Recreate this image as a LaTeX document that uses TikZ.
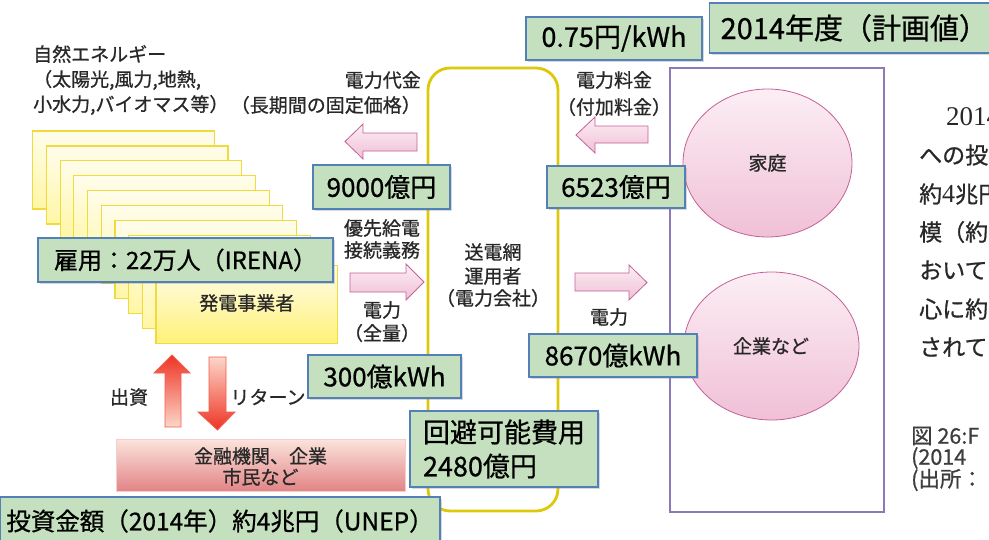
\documentclass[tikz,border=0pt]{standalone}
\usepackage{fontspec}
\setmainfont{Noto Sans CJK JP}[FakeBold=0.8]
\newfontfamily\serifnum{Liberation Serif}
\usetikzlibrary{shadows,shapes.geometric}
\definecolor{gfill}{RGB}{197,224,190}
\definecolor{gline}{RGB}{84,128,184}
\definecolor{ybord}{RGB}{240,218,60}
\definecolor{ytop}{RGB}{255,253,236}
\definecolor{ybot}{RGB}{255,246,165}
\definecolor{yfbot}{RGB}{255,241,120}
\definecolor{frameY}{RGB}{222,200,10}
\definecolor{frameP}{RGB}{140,122,182}
\definecolor{pinkA}{RGB}{252,238,244}
\definecolor{pinkB}{RGB}{240,192,214}
\definecolor{pinkL}{RGB}{196,96,152}
\definecolor{redA}{RGB}{238,52,36}
\definecolor{redB}{RGB}{252,214,200}
\definecolor{finTop}{RGB}{251,228,220}
\definecolor{finBot}{RGB}{226,132,134}
\definecolor{txt}{RGB}{40,40,40}
\begin{document}
\begin{tikzpicture}[x=1pt,y=-1pt,
  lbl/.style={inner sep=0pt, text=txt, font=\fontsize{19}{21}\selectfont},
  gbox/.style={draw=gline, fill=gfill, line width=1.2pt, inner sep=0pt, text=black,
    font=\fontsize{26}{31}\selectfont,
    drop shadow={shadow xshift=2pt, shadow yshift=-2pt, opacity=0.3}},
  ybox/.style={draw=ybord, line width=1.2pt, top color=ytop, bottom color=ybot,
    minimum width=181.6pt, minimum height=78pt, inner sep=0pt},
  ell/.style={ellipse, draw=pinkL, line width=0.8pt, top color=pinkA, bottom color=pinkB, inner sep=0pt},
  parrow/.style={draw=pinkL, line width=0.8pt, top color=pinkA, bottom color=pinkB},
  rtxt/.style={inner sep=0pt, text=txt, font=\fontsize{23}{25}\selectfont},
  captxt/.style={inner sep=0pt, text=txt!90, font=\fontsize{21.5}{23}\selectfont}
]
\useasboundingbox (0,0) rectangle (989,539);
\clip (0,0) rectangle (989,539);

% frames
\node[draw=frameY, line width=2.8pt, rounded corners=22pt, minimum width=130pt, minimum height=443pt, inner sep=0pt] (grid) at (493,289.5) {};
\node[draw=frameP, line width=2.8pt, minimum width=214pt, minimum height=444pt, inner sep=0pt] (cons) at (777,290) {};

% stacked producer boxes
\foreach \i in {0,...,8} {
  \node[ybox] (s\i) at ({123.5+13.7*\i},{170+14.9*\i}) {};
}
\node[ybox, bottom color=yfbot] (s9) at (246.8,304.1) {};
\node[lbl] (prod) at (246.8,303) {発電事業者};

% left texts
\node[lbl, anchor=west] (t1) at (33,54) {自然エネルギー};
\node[lbl, anchor=west] (t2) at (33,80) {（太陽光,風力,地熱,};
\node[lbl, anchor=west] (t3) at (33,105) {小水力,バイオマス等）};
\node[lbl, anchor=east] (t4) at (421,105) {（長期間の固定価格）};
\node[lbl, anchor=east] (t5) at (421,80) {電力代金};

% pink arrows
\path[parrow] (417,133) -- (363,133) -- (363,124) -- (345,141.5) -- (363,159) -- (363,151) -- (417,151) -- cycle;
\path[parrow] (648,126) -- (595,126) -- (595,117) -- (576,135) -- (595,153) -- (595,143) -- (648,143) -- cycle;
\path[parrow] (350,273) -- (406,273) -- (406,264) -- (424,282) -- (406,300) -- (406,292) -- (350,292) -- cycle;
\path[parrow] (575,273) -- (629,273) -- (629,265) -- (647,282.5) -- (629,300) -- (629,291) -- (575,291) -- cycle;

% middle labels
\node[lbl] (pri1) at (382,228) {優先給電};
\node[lbl] (pri2) at (382,250) {接続義務};
\node[lbl] (pw1) at (382,310) {電力};
\node[lbl] (pw2) at (382,333) {（全量）};
\node[lbl] (g1) at (493,252) {送電網};
\node[lbl] (g2) at (493,276) {運用者};
\node[lbl] (g3) at (493,298) {（電力会社）};
\node[lbl] (fee1) at (614,80) {電力料金};
\node[lbl] (fee2) at (614,107) {（付加料金）};
\node[lbl] (pw3) at (609,317) {電力};

% consumers
\node[ell, minimum width=169pt, minimum height=148pt] (home) at (767.5,163) {};
\node[lbl] (homet) at (767.5,163) {家庭};
\node[ell, minimum width=175pt, minimum height=148pt] (firm) at (771.5,346) {};
\node[lbl] (firmt) at (771,346) {企業など};

% red arrows and finance box
\path[draw=redA!80, line width=0.8pt, top color=redA, bottom color=redB]
  (165,427) -- (165,373) -- (154,373) -- (172,355) -- (190,373) -- (181,373) -- (181,427) -- cycle;
\path[draw=redA!80, line width=0.8pt, top color=redB, bottom color=redA]
  (209,357) -- (226,357) -- (226,412) -- (235,412) -- (217.5,430) -- (198,412) -- (209,412) -- cycle;
\node[lbl] (inv) at (129,397) {出資};
\node[lbl] (ret) at (268,397) {リターン};
\node[draw=finBot!40, line width=0.6pt, top color=finTop, bottom color=finBot, minimum width=289pt, minimum height=52pt, inner sep=0pt] (fin) at (260.5,465) {};
\node[lbl] (fin1) at (260.5,456) {金融機関、企業};
\node[lbl] (fin2) at (260.5,477) {市民など};

% green value boxes
\node[gbox, minimum width=176pt, minimum height=43pt, font=\fontsize{27}{31}\selectfont] (rate) at (614,38.5) {0.75円/kWh};
\node[gbox, minimum width=300pt, minimum height=50pt, font=\fontsize{29}{32}\selectfont, anchor=west, text width=290pt, align=left] (year) at (709,28) {\hspace*{6pt}2014年度（計画値）};
\node[gbox, minimum width=137pt, minimum height=44pt] (pay) at (381.5,187) {9000億円};
\node[gbox, minimum width=138pt, minimum height=42pt] (sur) at (616,187) {6523億円};
\node[gbox, minimum width=295pt, minimum height=44pt, font=\fontsize{24}{28}\selectfont] (job) at (185.5,260) {雇用：22万人（IRENA）};
\node[gbox, minimum width=153pt, minimum height=43pt] (gen) at (384.5,376.5) {300億kWh};
\node[gbox, minimum width=168pt, minimum height=43pt] (dem) at (613,355.5) {8670億kWh};
\node[gbox, minimum width=188pt, minimum height=76pt, align=left, font=\fontsize{27}{34}\selectfont] (avoid) at (504,449) {回避可能費用\\2480億円};
\node[gbox, minimum width=440pt, minimum height=48pt, font=\fontsize{24.5}{28}\selectfont] (total) at (220,521) {投資金額（2014年）約4兆円（UNEP）};

% right text column
\node[rtxt, anchor=west] (r1) at (946,117) {\serifnum\fontsize{27}{29}\selectfont 2014};
\node[rtxt, anchor=west] (r2) at (919,155) {への投};
\node[rtxt, anchor=west] (r3) at (919,194) {約{\serifnum\fontsize{26}{28}\selectfont 4}兆円};
\node[rtxt, anchor=west] (r4) at (919,232) {模（約};
\node[rtxt, anchor=west] (r5) at (919,270) {おいて};
\node[rtxt, anchor=west] (r6) at (919,309) {心に約};
\node[rtxt, anchor=west] (r7) at (919,347) {されて};

% caption
\node[captxt, anchor=west] (c1) at (911,436) {図 26:F};
\node[captxt, anchor=west] (c2) at (911,458) {(2014};
\node[captxt, anchor=west] (c3) at (911,480) {(出所：};
\end{tikzpicture}
\end{document}
